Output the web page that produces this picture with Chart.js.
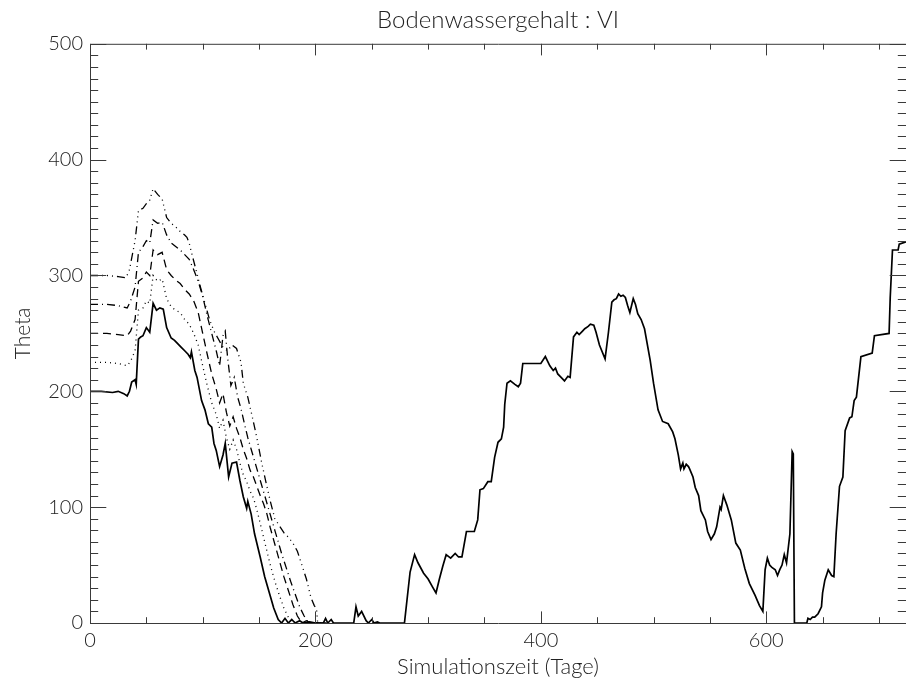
<!DOCTYPE html>
<html>
<head>
<meta charset="utf-8">
<script src="https://cdn.jsdelivr.net/npm/chart.js@4.4.1/dist/chart.umd.min.js"></script>
<style>
	html, body { margin: 0; padding: 0; background: #fff; }
	#wrap { width: 906px; height: 684px; }
</style>
</head>
<body>
<div id="wrap"><canvas id="theta-chart" width="906" height="684"></canvas></div>
<script>

var xTicks = [0, 200, 400, 600];
var yTicks = [0, 100, 200, 300, 400, 500];

var solidDays = [0,10,20,25,30,33,35,37,40,41,43,45,47,50,53,56,59,62,65,68,72,75,78,81,84,87,89,90,93,95,99,102,105,108,110,112,115,118,120,123,126,130,133,136,139,140,143,146,151,155,160,163,167,170,173,176,179,182,186,189,195,200,207,209,211,214,216,234,236,238,241,245,247,250,252,255,257,279,284,288,291,296,300,304,307,310,313,316,320,324,327,330,334,341,344,346,349,353,356,359,362,365,367,368,370,373,377,380,382,384,400,404,408,411,413,415,418,421,424,426,429,432,434,437,439,442,444,447,449,452,457,460,463,465,467,469,471,473,475,477,479,482,484,486,489,492,497,500,504,508,513,517,519,522,524,526,527,529,531,532,535,537,540,542,546,548,551,554,556,559,560,562,565,569,573,577,581,585,590,594,597,599,601,603,605,608,610,612,614,616,618,621,623,624,625,636,637,639,641,643,646,649,650,652,655,658,660,662,665,668,670,674,676,678,680,684,694,696,709,710,712,717,718,724];
var solidTheta = [200,200,199,200,198,196,200,208,210,206,245,247,248,255,251,276,270,272,271,255,246,244,241,238,235,232,229,234,218,212,192,184,172,169,155,149,135,145,155,126,138,139,123,109,99,105,94,77,57,40,23,13,3,0,4,0,3,0,2,0,1,0,0,4,0,3,0,0,14,6,10,2,0,3,0,1,0,0,44,59,52,43,38,31,26,38,49,59,56,60,57,57,79,79,89,115,116,122,122,143,156,159,169,189,207,209,206,204,207,224,224,230,222,218,220,215,212,209,213,212,247,251,249,252,254,256,258,257,251,240,228,251,277,279,280,284,282,283,281,274,268,280,275,267,262,254,227,207,184,174,172,165,159,145,133,138,133,137,135,133,126,117,110,97,89,79,72,77,83,100,98,110,102,89,69,63,47,34,24,15,10,46,56,50,48,46,41,46,50,59,52,77,148,146,0,0,4,3,5,5,8,14,26,37,46,41,40,77,118,126,166,177,178,192,195,230,233,248,250,281,322,322,327,329];

var dotDays = [0,15,25,33,36,40,43,47,50,53,56,60,64,68,72,76,80,84,88,92,96,100,104,108,112,115,118,121,124,127,130,133,136,139,142,145,148,152,156,160,164,168,172,176,180,185,190,200];
var dotTheta = [225,225,224,222,226,235,270,272,278,276,300,295,297,280,273,270,268,262,258,250,240,222,205,190,180,168,175,160,150,158,150,138,128,122,114,108,98,82,66,50,36,24,13,5,0,2,0,0];

var dashDays = [0,15,25,33,36,40,43,47,50,53,56,60,64,68,72,76,80,84,88,92,96,100,104,108,112,115,118,121,124,127,130,133,136,139,142,145,148,151,154,157,160,164,168,172,176,180,184,188,192,196,205];
var dashTheta = [250,250,249,248,252,262,295,298,303,300,322,318,320,305,300,296,293,288,284,278,268,250,232,215,202,190,198,182,170,178,168,160,150,142,132,126,118,110,103,94,82,68,54,40,28,16,6,0,2,0,0];

var dashDotDays = [0,15,25,33,36,40,43,47,50,53,56,60,64,68,72,76,80,84,88,92,96,100,104,108,112,115,118,120,122,125,128,131,134,137,140,143,146,149,152,155,158,161,164,167,170,174,178,182,186,190,194,205];
var dashDotTheta = [275,275,274,272,278,290,320,325,330,328,348,345,346,335,328,325,322,318,314,305,295,282,265,250,235,222,248,252,230,205,212,195,185,172,160,150,140,130,120,110,100,90,80,70,60,48,36,25,14,6,0,0];

var dash3DotDays = [0,15,25,32,35,40,43,47,50,53,56,60,64,68,72,76,80,84,86,88,90,94,98,102,106,110,114,118,122,126,130,134,136,140,144,148,152,156,160,164,168,172,176,180,184,188,192,196,199,201,202,210];
var dash3DotTheta = [300,300,299,298,305,330,356,358,362,365,375,370,366,350,345,342,338,335,333,328,320,305,290,276,262,252,245,238,235,240,237,225,207,195,178,160,140,122,105,90,84,78,74,69,62,50,38,22,15,12,0,0];

function pts(days, vals) {
	return days.map(function (d, i) { return { x: d, y: vals[i] }; });
}

// IDL style frame, ticks inward on all four sides
var idlFrame = {
	id: 'idlFrame',
	afterDraw: function (chart) {
		var ctx = chart.ctx, a = chart.chartArea;
		var xs = chart.scales.x, ys = chart.scales.y;
		ctx.save();
		ctx.strokeStyle = '#3a3a3a';
		ctx.lineWidth = 1;
		ctx.beginPath();
		ctx.rect(a.left + 0.5, a.top + 0.5, a.right - a.left, a.bottom - a.top);
		var v, p, len;
		for (v = 0; v <= xs.max; v += 50) {
			p = Math.round(xs.getPixelForValue(v)) + 0.5;
			len = (v % 200 === 0) ? 11.6 : 5.8;
			ctx.moveTo(p, a.bottom); ctx.lineTo(p, a.bottom - len);
			ctx.moveTo(p, a.top); ctx.lineTo(p, a.top + len);
		}
		for (v = 0; v <= ys.max; v += 10) {
			p = Math.round(ys.getPixelForValue(v)) + 0.5;
			len = (v % 100 === 0) ? 16.3 : 8.2;
			ctx.moveTo(a.left, p); ctx.lineTo(a.left + len, p);
			ctx.moveTo(a.right, p); ctx.lineTo(a.right - len, p);
		}
		ctx.stroke();
		ctx.restore();
	}
};

Chart.defaults.font.family = 'Lato, "Liberation Sans", sans-serif';
Chart.defaults.font.weight = '300';
Chart.defaults.color = '#333';

function line(label, days, vals, dash, width) {
	return {
		label: label,
		data: pts(days, vals),
		borderColor: '#000',
		borderWidth: width,
		borderDash: dash,
		pointRadius: 0,
		tension: 0,
		fill: false
	};
}

new Chart(document.getElementById('theta-chart'), {
	type: 'line',
	data: {
		datasets: [
			line('VI 1', solidDays, solidTheta, [], 1.7),
			line('VI 2', dotDays, dotTheta, [1, 4], 1.3),
			line('VI 3', dashDays, dashTheta, [8, 5], 1.3),
			line('VI 4', dashDotDays, dashDotTheta, [8, 4, 1, 4], 1.3),
			line('VI 5', dash3DotDays, dash3DotTheta, [8, 4, 1, 4, 1, 4, 1, 4], 1.3)
		]
	},
	options: {
		responsive: false,
		animation: false,
		layout: { padding: { left: 7, right: 0, top: 0, bottom: 0 } },
		plugins: {
			legend: { display: false },
			tooltip: { enabled: false },
			title: {
				display: true,
				fullSize: false,
				text: 'Bodenwassergehalt : VI',
				color: '#222',
				font: { size: 24, weight: '300' },
				padding: { top: 6, bottom: 9 }
			}
		},
		scales: {
			x: {
				type: 'linear',
				min: 0,
				max: 724,
				grid: { display: false, drawTicks: false },
				border: { display: false },
				afterBuildTicks: function (s) { s.ticks = xTicks.map(function (v) { return { value: v }; }); },
				afterFit: function (s) { s.height = 61; },
				ticks: { font: { size: 20 }, padding: 6, maxRotation: 0, color: '#222' },
				title: { display: true, text: 'Simulationszeit (Tage)', font: { size: 22 }, color: '#222', padding: { top: 0 } }
			},
			y: {
				min: 0,
				max: 500,
				grid: { display: false, drawTicks: false },
				border: { display: false },
				afterBuildTicks: function (s) { s.ticks = yTicks.map(function (v) { return { value: v }; }); },
				afterFit: function (s) { s.width = 83; },
				ticks: { font: { size: 20 }, padding: 7, color: '#222' },
				title: { display: true, text: 'Theta', font: { size: 21 }, color: '#222' }
			}
		}
	},
	plugins: [idlFrame]
});
</script>
</body>
</html>
